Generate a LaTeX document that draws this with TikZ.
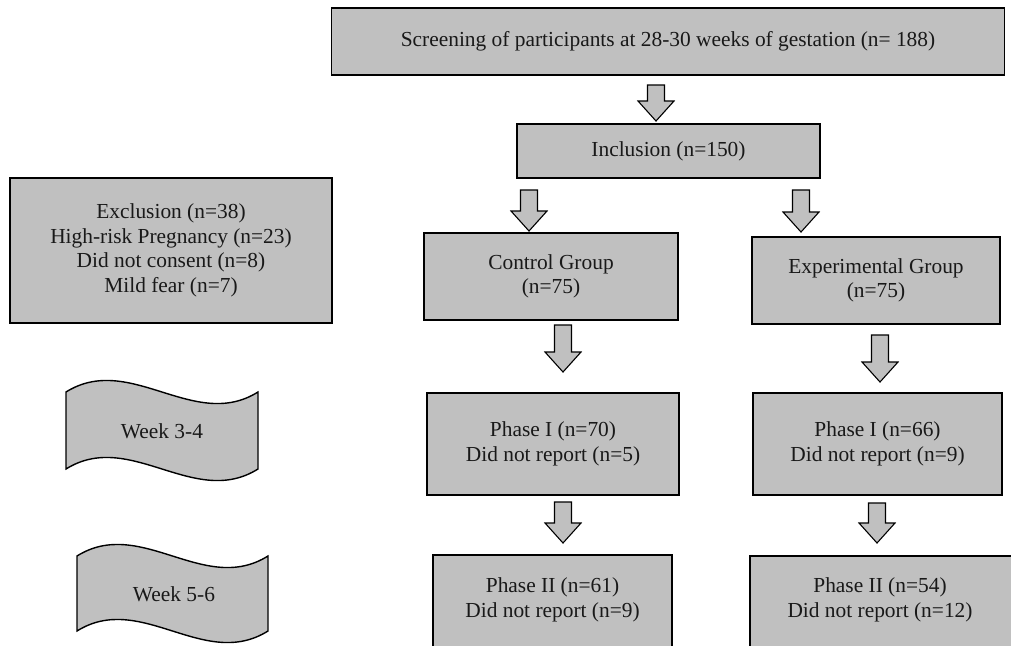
\documentclass[tikz,border=0pt]{standalone}
\usepackage{fontspec}
\setmainfont{Liberation Serif}
\usetikzlibrary{calc}
\definecolor{boxgray}{RGB}{192,192,192}
\definecolor{txt}{RGB}{25,25,25}
\newcommand\blockarrow[2]{%
  \draw[barrow] let \p1=(#1), \p2=(#2) in
    (\x1-8.5pt,\y1) -- (\x1+8.5pt,\y1) -- (\x1+8.5pt,\y2+20pt) -- (\x1+18pt,\y2+20pt)
    -- (\x2,\y2) -- (\x1-18pt,\y2+20pt) -- (\x1-8.5pt,\y2+20pt) -- cycle;}
\begin{document}
\begin{tikzpicture}[x=1pt,y=-1pt,
  box/.style={draw=black, line width=1.4pt, fill=boxgray, inner sep=0pt, align=center,
    text=txt, font=\fontsize{21.4}{24.5}\selectfont},
  barrow/.style={draw=black, line width=1.1pt, fill=boxgray, line join=miter},
  wave/.style={draw=black, line width=1.4pt, fill=boxgray},
  lbl/.style={text=txt, align=center, inner sep=0pt, font=\fontsize{21.4}{24.5}\selectfont}]
\useasboundingbox (0,0) rectangle (1011,645);
\clip (0,0) rectangle (1011,645);
% boxes
\node[box, line width=1.8pt, minimum width=673, minimum height=67] (screen) at (668,41.5)
  {Screening of participants at 28-30 weeks of gestation (n= 188)};
\node[box, minimum width=303, minimum height=54] (incl) at (668.5,151) {Inclusion (n=150)};
\node[box, minimum width=322, minimum height=145] (excl) at (171,250.5)
  {Exclusion (n=38)\\High-risk Pregnancy (n=23)\\Did not consent (n=8)\\Mild fear (n=7)};
\node[box, minimum width=254, minimum height=87] (ctrl) at (551,276.5) {Control Group\\(n=75)};
\node[box, minimum width=248, minimum height=87] (exp) at (876,280.5) {Experimental Group\\(n=75)};
\node[box, minimum width=252, minimum height=102] (p1c) at (553,444) {Phase I (n=70)\\Did not report (n=5)};
\node[box, minimum width=249, minimum height=102] (p1e) at (877.5,444) {Phase I (n=66)\\Did not report (n=9)};
\node[box, minimum width=239, minimum height=105] (p2c) at (552.5,607.5) {};
\node[lbl] (p2ct) at (552.5,600) {Phase II (n=61)\\Did not report (n=9)};
\node[box, minimum width=270, minimum height=105] (p2e) at (885,608.5) {};
\node[lbl] (p2et) at (880,600) {Phase II (n=54)\\Did not report (n=12)};
% wave shapes
\draw[wave] (66,392) .. controls (130,352) and (194,432) .. (258,392) -- (258,469)
  .. controls (194,509) and (130,429) .. (66,469) -- cycle;
\node[lbl] (w34) at (162,431) {Week 3-4};
\draw[wave] (77,556) .. controls (141,516) and (204,596) .. (268,556) -- (268,631)
  .. controls (204,671) and (141,591) .. (77,631) -- cycle;
\node[lbl] (w56) at (174,594) {Week 5-6};
% block arrows
\coordinate (a0s) at (656,85);  \coordinate (a0e) at (656,121);
\coordinate (a1s) at (529,190); \coordinate (a1e) at (529,231);
\coordinate (a2s) at (801,190); \coordinate (a2e) at (801,232);
\coordinate (a3s) at (563,325); \coordinate (a3e) at (563,372);
\coordinate (a4s) at (880,335); \coordinate (a4e) at (880,382);
\coordinate (a5s) at (563,502); \coordinate (a5e) at (563,543);
\coordinate (a6s) at (877,503); \coordinate (a6e) at (877,543);
\blockarrow{a0s}{a0e}
\blockarrow{a1s}{a1e}
\blockarrow{a2s}{a2e}
\blockarrow{a3s}{a3e}
\blockarrow{a4s}{a4e}
\blockarrow{a5s}{a5e}
\blockarrow{a6s}{a6e}
\end{tikzpicture}
\end{document}
